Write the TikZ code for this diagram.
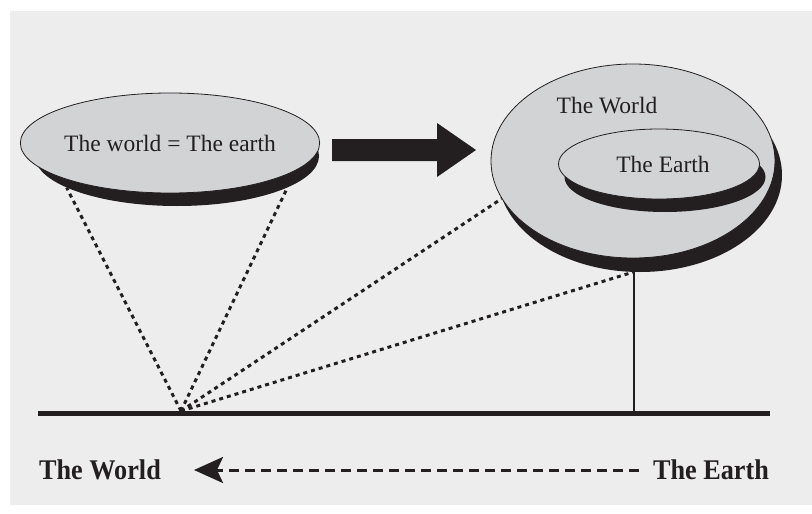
\documentclass[tikz,border=0pt]{standalone}
\usepackage{fontspec}
\setmainfont{Liberation Serif}
\usetikzlibrary{shapes.geometric,arrows.meta}
\definecolor{bgc}{HTML}{EDEDED}
\definecolor{ellfill}{HTML}{D2D3D5}
\definecolor{ink}{HTML}{231F20}
\tikzset{
  disc/.style={ellipse, draw=ink, line width=0.8pt, fill=ellfill, inner sep=0pt, text=ink,
    font=\fontsize{23.5}{28}\selectfont},
  discshadow/.style={ellipse, fill=ink, inner sep=0pt},
  dotline/.style={ink, line width=3pt, dash pattern=on 4pt off 4pt},
  label/.style={text=ink, font=\fontsize{23.5}{28}\selectfont, inner sep=0pt},
  boldlabel/.style={text=ink, font=\bfseries\fontsize{28.5}{32}\selectfont, inner sep=0pt},
}
\begin{document}
\begin{tikzpicture}[x=1pt,y=-1pt]
\useasboundingbox (0,0) rectangle (812,514);
\fill[bgc] (10,11) rectangle (812,505);
% left disc
\node[discshadow, minimum width=284pt, minimum height=100pt] (Ls) at (177,156) {};
\node[disc, minimum width=284pt, minimum height=100pt] (L) at (170,143) {The world = The earth};
% big arrow
\fill[ink] (332,139) -- (437,139) -- (437,123) -- (476,150) -- (437,177) -- (437,161) -- (332,161) -- cycle;
% right disc
\node[discshadow, minimum width=284pt, minimum height=194pt] (Rs) at (640,175) {};
\node[disc, minimum width=284pt, minimum height=194pt] (R) at (633,161) {};
\node[label] (tWorld) at (607,106) {The World};
\node[discshadow, minimum width=201pt, minimum height=70pt] (Es) at (665,177) {};
\node[disc, minimum width=201pt, minimum height=70pt] (E) at (659,164) {\hspace*{8pt}The Earth};
% ground
\coordinate (g1) at (38,413);
\coordinate (g2) at (770,413);
\coordinate (apex) at (181,411);
\coordinate (pole) at (634,413);
\draw[ink, line width=2.5pt] (pole) -- (pole |- Rs.south);
\draw[ink, line width=5pt] (g1) -- (g2);
% dotted sight lines
\draw[dotline] (apex) -- (Ls.196);
\draw[dotline] (apex) -- (Ls.344);
\draw[dotline] (apex) -- (R.196);
\draw[dotline] (apex) -- (Rs.266);
% bottom labels
\node[boldlabel] (bw) at (100,470) {\scalebox{0.92}[1]{The World}};
\node[boldlabel] (be) at (711,470) {\scalebox{0.92}[1]{The Earth}};
\draw[ink, line width=3pt, dash pattern=on 10pt off 6pt, -{Stealth[length=29pt,width=26pt,inset=6pt]}]
  ([xshift=-14pt]be.west) -- ([xshift=33pt]bw.east);
\end{tikzpicture}
\end{document}
